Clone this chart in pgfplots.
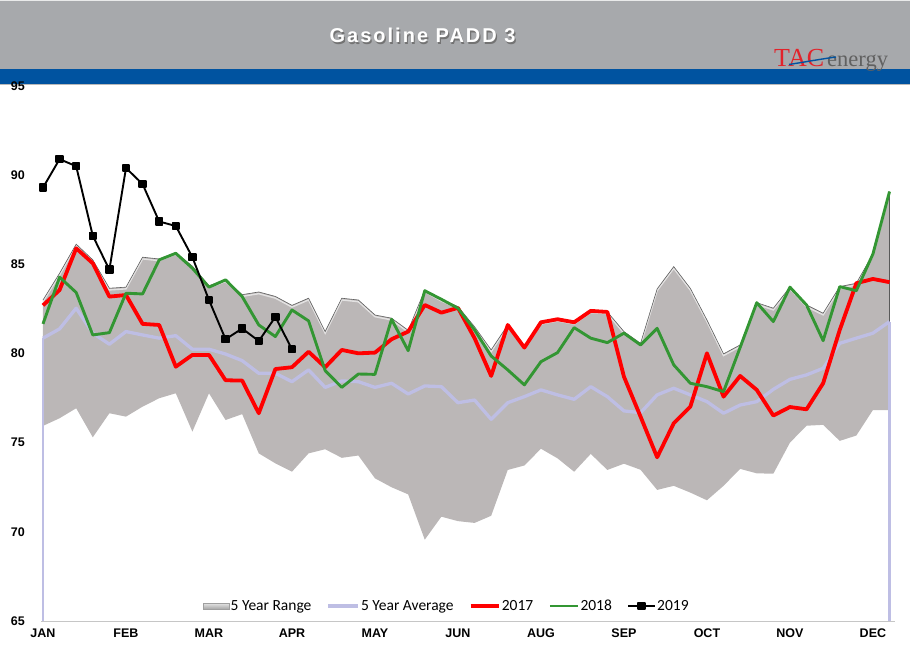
\documentclass[border=0pt]{standalone}
\usepackage{fontspec}
\setmainfont{Liberation Sans}
\newfontfamily\legendfont{Carlito}
\newfontfamily\logofont{Liberation Serif}
\usepackage{pgfplots}
\pgfplotsset{compat=1.18}
\usepgfplotslibrary{fillbetween}
\usepackage{pgfplotstable}

\definecolor{hdrgray}{RGB}{167,169,172}
\definecolor{hdrblue}{RGB}{0,83,160}
\definecolor{rangegray}{RGB}{187,183,183}
\definecolor{avgcol}{RGB}{190,190,228}
\definecolor{g18}{RGB}{51,150,51}
\definecolor{tacred}{RGB}{226,35,43}

\pgfplotsset{
  linelegend/.style={legend image code/.code={\draw[##1] (0pt,0pt) -- (#1,0pt);}},
  marklegend/.style={legend image code/.code={\draw[mark repeat=2, mark phase=2, ##1] plot coordinates {(0pt,0pt) (13.5pt,0pt) (27pt,0pt)};}},
  rangelegend/.style={legend image code/.code={\shade[top color=gray!20, bottom color=gray!70, draw=gray!75] (0pt,-3pt) rectangle (26pt,3pt);}},
}

\pgfplotstableread{
i  up    lo    avg   y17   y18
0  83.00 75.94 80.86 82.70 81.66
1  84.50 76.37 81.38 83.56 84.28
2  86.13 76.93 82.54 85.90 83.42
3  85.25 75.30 81.14 85.06 81.04
4  83.66 76.65 80.52 83.19 81.17
5  83.72 76.46 81.23 83.28 83.38
6  85.40 77.02 81.04 81.66 83.34
7  85.30 77.49 80.86 81.60 85.25
8  85.66 77.77 81.00 79.26 85.62
9  84.90 75.62 80.24 79.92 84.78
10 83.80 77.77 80.24 79.92 83.72
11 84.13 76.27 79.97 78.50 84.13
12 83.30 76.60 79.60 78.48 83.19
13 83.45 74.40 78.89 76.65 81.60
14 83.20 73.84 78.89 79.13 80.95
15 82.70 73.37 78.42 79.23 82.44
16 83.10 74.40 79.08 80.10 81.83
17 81.23 74.63 78.10 79.23 79.04
18 83.10 74.15 78.46 80.20 78.10
19 83.00 74.28 78.42 80.01 78.85
20 82.16 73.00 78.10 80.05 78.83
21 81.98 72.50 78.33 80.80 81.92
22 81.30 72.10 77.73 81.23 80.16
23 83.56 69.56 78.18 82.72 83.52
24 83.04 70.85 78.14 82.29 83.04
25 82.63 70.60 77.24 82.56 82.54
26 81.50 70.50 77.39 80.86 81.32
27 80.20 70.90 76.31 78.74 79.86
28 81.60 73.47 77.24 81.60 79.08
29 80.40 73.72 77.58 80.33 78.24
30 81.75 74.66 77.96 81.75 79.54
31 81.92 74.12 77.68 81.92 80.05
32 81.75 73.37 77.43 81.75 81.45
33 82.39 74.37 78.14 82.39 80.86
34 82.33 73.47 77.58 82.33 80.61
35 81.23 73.82 76.78 78.70 81.14
36 80.57 73.48 76.68 76.46 80.48
37 83.62 72.35 77.68 74.18 81.41
38 84.87 72.58 78.05 76.09 79.36
39 83.65 72.20 77.68 77.02 78.33
40 81.88 71.77 77.30 80.01 78.14
41 79.98 72.58 76.65 77.58 77.86
42 80.48 73.53 77.11 78.74 80.34
43 82.85 73.28 77.30 77.96 82.85
44 82.54 73.26 77.99 76.52 81.79
45 83.72 75.00 78.55 77.00 83.72
46 82.72 75.95 78.80 76.87 82.72
47 82.26 76.00 79.17 78.33 80.72
48 83.75 75.10 80.57 81.32 83.75
49 83.94 75.40 80.86 83.94 83.52
50 85.58 76.83 81.14 84.18 85.58
51 89.08 76.83 81.79 84.00 89.08
}\data

\pgfplotstableread{
i  y19
0  89.30
1  90.90
2  90.50
3  86.60
4  84.70
5  90.40
6  89.50
7  87.40
8  87.15
9  85.40
10 83.00
11 80.80
12 81.40
13 80.70
14 82.05
15 80.24
}\dataB

\begin{document}
\begin{tikzpicture}[x=1pt,y=1pt]
\path (0,0) rectangle (910,659);
% header
\fill[hdrgray] (0,590) rectangle (910,659);
\fill[white!75!hdrgray] (0,657.5) rectangle (910,659);
\fill[hdrblue] (0,575) rectangle (910,590);
\fill[gray!55] (0,574.2) rectangle (910,575);
\node[text=black!55, font=\bfseries\fontsize{20}{20}\selectfont\addfontfeature{LetterSpace=10}] at (423.8,622.0) {Gasoline PADD 3};
\node[text=white, font=\bfseries\fontsize{20}{20}\selectfont\addfontfeature{LetterSpace=10}] at (422.6,623.2) {Gasoline PADD 3};
% logo
\node[anchor=base west, inner sep=0pt, text=tacred, font=\logofont\fontsize{26}{26}\selectfont] at (774,592) {TAC};
\node[anchor=base west, inner sep=0pt, text=black!62, font=\logofont\fontsize{22.5}{22.5}\selectfont] at (827,592) {energy};
\draw[hdrblue, line width=1.4pt] (789,594.5) .. controls (805,597) and (818,599.5) .. (836,602);

\begin{axis}[
  at={(41pt,38pt)}, anchor=south west,
  scale only axis, width=854pt, height=535pt,
  xmin=-0.12, xmax=51.33, ymin=65, ymax=95,
  xtick={0,5,...,50},
  xticklabels={JAN,FEB,MAR,APR,MAY,JUN,AUG,SEP,OCT,NOV,DEC},
  ytick={65,70,...,95},
  major tick length=0pt,
  axis lines*=left,
  y axis line style={draw=none},
  x axis line style={draw=gray!45, line width=1pt},
  /pgf/number format/assume math mode=true,
  tick label style={font=\bfseries\fontsize{12.5}{14}\selectfont},
  yticklabel style={anchor=east, inner sep=0pt, xshift=-16pt},
  xticklabel style={anchor=north, inner sep=0pt, yshift=-8pt},
  legend columns=5,
  legend style={at={(0.4748,0.028)}, anchor=center, draw=none, fill=none,
    font=\legendfont\fontsize{15.5}{17}\selectfont,
    /tikz/every even column/.append style={column sep=14pt},
    inner sep=0pt, nodes={inner sep=1.2pt}},
]
\addplot[name path=up, draw=none, forget plot] table[x=i,y=up]{\data};
\addplot[name path=lo, draw=none, forget plot] table[x=i,y=lo]{\data};
\addplot[fill=rangegray, draw=none, rangelegend] fill between[of=up and lo];
\addlegendentry{5 Year Range}
\addplot[forget plot, white, opacity=0.6, line width=1.4pt, yshift=-1.7pt] table[x=i,y=up]{\data};
\addplot[forget plot, gray!75!black, line width=0.6pt] table[x=i,y=up]{\data};
\addplot[forget plot, gray!70!black, line width=1pt] coordinates {(51,76.83) (51,89.08)};
% 5 year average
\addplot[forget plot, avgcol, line width=2.2pt] coordinates {(0,65) (0,80.86)};
\addplot[forget plot, avgcol, line width=2.2pt] coordinates {(51,65) (51,81.79)};
\addplot[avgcol, line width=3.3pt, line join=round, linelegend=30pt] table[x=i,y=avg]{\data};
\addlegendentry{5 Year Average}
\addplot[red, line width=3.8pt, line join=round, linelegend=28pt] table[x=i,y=y17]{\data};
\addlegendentry{2017}
\addplot[g18, line width=2.9pt, line join=round, linelegend=28pt] table[x=i,y=y18]{\data};
\addlegendentry{2018}
\addplot[black, line width=1.9pt, line join=round, mark=square*, mark size=3.3pt, mark options={solid}, marklegend] table[x=i,y=y19]{\dataB};
\addlegendentry{2019}
\end{axis}
\end{tikzpicture}
\end{document}
